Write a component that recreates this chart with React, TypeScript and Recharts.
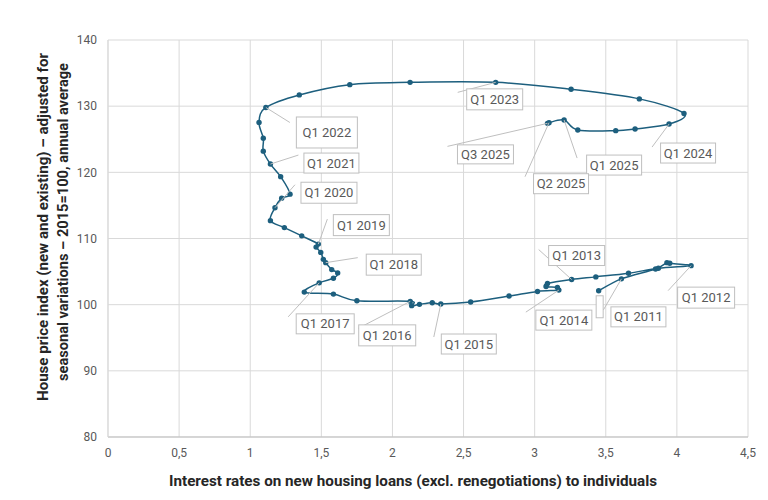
import {
  ScatterChart,
  Scatter,
  XAxis,
  YAxis,
  CartesianGrid,
  Label,
} from "recharts";

// quarterly path, Q4 2010 -> Q3 2025
const quarters = [
  "Q4 2010",
  "Q1 2011", "Q2 2011", "Q3 2011", "Q4 2011",
  "Q1 2012", "Q2 2012", "Q3 2012", "Q4 2012",
  "Q1 2013", "Q2 2013", "Q3 2013", "Q4 2013",
  "Q1 2014", "Q2 2014", "Q3 2014", "Q4 2014",
  "Q1 2015", "Q2 2015", "Q3 2015", "Q4 2015",
  "Q1 2016", "Q2 2016", "Q3 2016", "Q4 2016",
  "Q1 2017", "Q2 2017", "Q3 2017", "Q4 2017",
  "Q1 2018", "Q2 2018", "Q3 2018", "Q4 2018",
  "Q1 2019", "Q2 2019", "Q3 2019", "Q4 2019",
  "Q1 2020", "Q2 2020", "Q3 2020", "Q4 2020",
  "Q1 2021", "Q2 2021", "Q3 2021", "Q4 2021",
  "Q1 2022", "Q2 2022", "Q3 2022", "Q4 2022",
  "Q1 2023", "Q2 2023", "Q3 2023", "Q4 2023",
  "Q1 2024", "Q2 2024", "Q3 2024", "Q4 2024",
  "Q1 2025", "Q2 2025", "Q3 2025",
];

const rates = [
  3.45,
  3.61, 3.85, 3.93, 3.95,
  4.1, 3.87, 3.66, 3.43,
  3.26, 3.09, 3.08, 3.16,
  3.17, 3.02, 2.82, 2.55,
  2.34, 2.28, 2.19, 2.135,
  2.125, 1.75, 1.585, 1.38,
  1.485, 1.585, 1.615, 1.573,
  1.531, 1.514, 1.496, 1.463,
  1.479, 1.362, 1.24, 1.142,
  1.174, 1.221, 1.28, 1.214,
  1.142, 1.092, 1.092, 1.062,
  1.11, 1.345, 1.7, 2.124,
  2.726, 3.256, 3.736, 4.05,
  3.945, 3.706, 3.57, 3.303,
  3.207, 3.101, 3.09,
];

const prices = [
  102.1,
  103.9, 105.4, 106.35, 106.25,
  105.9, 105.5, 104.75, 104.2,
  103.8, 103.2, 102.75, 102.6,
  102.2, 102.0, 101.3, 100.4,
  100.1, 100.3, 100.05, 99.85,
  100.5, 100.6, 101.6, 101.9,
  103.3, 104.0, 104.8, 105.3,
  106.35, 106.85, 107.9, 108.7,
  109.15, 110.4, 111.65, 112.7,
  114.65, 116.1, 116.7, 119.35,
  121.25, 123.2, 125.15, 127.55,
  129.8, 131.7, 133.25, 133.6,
  133.6, 132.55, 131.1, 128.9,
  127.3, 126.55, 126.3, 126.4,
  127.9, 127.5, 127.4,
];

const labelledQuarters = [
  "Q4 2010", "Q1 2011", "Q1 2012", "Q1 2013", "Q1 2014", "Q1 2015",
  "Q1 2016", "Q1 2017", "Q1 2018", "Q1 2019", "Q1 2020", "Q1 2021",
  "Q1 2022", "Q1 2023", "Q1 2024", "Q1 2025", "Q2 2025", "Q3 2025",
];

const xTicks = [0, 0.5, 1, 1.5, 2, 2.5, 3, 3.5, 4, 4.5];
const yTicks = [80, 90, 100, 110, 120, 130, 140];

// box centre (bx, by), box size (w, h) and leader start (lx, ly), px offsets from the point
const labelLayout: Record<string, any> = {
  "Q4 2010": { bx: 1, by: 16, w: 7, h: 22, empty: true },
  "Q1 2011": { bx: 17, by: 38, w: 55, h: 20, lx: -18, ly: 31 },
  "Q1 2012": { bx: 15, by: 32, w: 57, h: 21, lx: -23, ly: 25 },
  "Q1 2013": { bx: 5, by: -24, w: 56, h: 20, lx: -33, ly: -30 },
  "Q1 2014": { bx: 5, by: 30, w: 56, h: 20, lx: -33, ly: 22 },
  "Q1 2015": { bx: 28, by: 40, w: 55, h: 20, lx: -7, ly: 33 },
  "Q1 2016": { bx: -23, by: 34, w: 57, h: 21, lx: -52, ly: 27 },
  "Q1 2017": { bx: 6, by: 41, w: 58, h: 20, lx: -31, ly: 34 },
  "Q1 2018": { bx: 68, by: 2, w: 55, h: 21, lx: 32, ly: -5 },
  "Q1 2019": { bx: 43, by: -19, w: 56, h: 21, lx: 9, ly: -25 },
  "Q1 2020": { bx: 54, by: -15, w: 56, h: 21, lx: 20, ly: -23 },
  "Q1 2021": { bx: 61, by: -1, w: 55, h: 20, lx: 28, ly: -9 },
  "Q1 2022": { bx: 61, by: 25, w: 61, h: 31, lx: 24, ly: 15 },
  "Q1 2023": { bx: -1, by: 17, w: 56, h: 21, lx: -38, ly: 10 },
  "Q1 2024": { bx: 19, by: 29, w: 55, h: 20, lx: -17, ly: 23 },
  "Q1 2025": { bx: 50, by: 45, w: 55, h: 20, lx: 13, ly: 38 },
  "Q2 2025": { bx: 12, by: 61, w: 55, h: 20, lx: -24, ly: 54 },
  "Q3 2025": { bx: -62, by: 31, w: 56, h: 19, lx: -100, ly: 23 },
};

const series = quarters.map((quarter, i) => ({
  quarter,
  rate: rates[i],
  price: prices[i],
}));

const labelData = series.filter((d) =>
  labelledQuarters.includes(d.quarter)
);

const COLOR = "#1d5f7e";
const FONT = "Roboto, 'Liberation Sans', sans-serif";

// smoothed line through every point, like a spreadsheet's smoothed scatter
const smoothCurve = (context: any) => {
  let pts: number[][] = [];
  return {
    areaStart() {},
    areaEnd() {},
    lineStart() {
      pts = [];
    },
    point(x: number, y: number) {
      pts.push([+x, +y]);
    },
    lineEnd() {
      const n = pts.length;
      if (!n) return;
      context.moveTo(pts[0][0], pts[0][1]);
      const k = 1 / 6;
      for (let i = 0; i < n - 1; i++) {
        const p0 = pts[Math.max(i - 1, 0)];
        const p1 = pts[i];
        const p2 = pts[i + 1];
        const p3 = pts[Math.min(i + 2, n - 1)];
        context.bezierCurveTo(
          p1[0] + (p2[0] - p0[0]) * k,
          p1[1] + (p2[1] - p0[1]) * k,
          p2[0] - (p3[0] - p1[0]) * k,
          p2[1] - (p3[1] - p1[1]) * k,
          p2[0],
          p2[1]
        );
      }
    },
  };
};

const renderDot = (props: any) => (
  <circle cx={props.cx} cy={props.cy} r={2.7} fill={COLOR} />
);

const renderLabel = (props: any) => {
  const { cx, cy, payload } = props;
  const lay = labelLayout[payload.quarter];
  if (!lay) return <g />;
  const bx = cx + lay.bx;
  const by = cy + lay.by;
  return (
    <g>
      {lay.lx !== undefined && (
        <line
          x1={cx + lay.lx}
          y1={cy + lay.ly}
          x2={cx}
          y2={cy}
          stroke="#bfbfbf"
          strokeWidth={1}
        />
      )}
      <rect
        x={bx - lay.w / 2}
        y={by - lay.h / 2}
        width={lay.w}
        height={lay.h}
        fill="#ffffff"
        stroke="#bfbfbf"
        strokeWidth={1}
      />
      {!lay.empty && (
        <text
          x={bx}
          y={by}
          textAnchor="middle"
          dominantBaseline="central"
          fontSize={13}
          fill="#595959"
          fontFamily={FONT}
        >
          {payload.quarter}
        </text>
      )}
    </g>
  );
};

export default function App() {
  return (
    <div
      style={{
        position: "absolute",
        left: 0,
        top: 0,
        width: 768,
        height: 500,
        background: "#ffffff",
      }}
    >
      <ScatterChart
        width={768}
        height={500}
        margin={{ top: 40, right: 20, bottom: 0, left: 0 }}
      >
        <CartesianGrid stroke="#d9d9d9" />
        <XAxis
          type="number"
          dataKey="rate"
          domain={[0, 4.5]}
          ticks={xTicks}
          tickFormatter={(v) => String(v).replace(".", ",")}
          height={63}
          axisLine={{ stroke: "#bfbfbf" }}
          tickLine={false}
          tickSize={0}
          tickMargin={11}
          tick={{ fill: "#595959", fontSize: 12, fontFamily: FONT }}
        >
          <Label
            content={() => (
              <text
                x={413}
                y={481}
                textAnchor="middle"
                dominantBaseline="central"
                fontSize={14}
                fontWeight="bold"
                fill="#262626"
                fontFamily={FONT}
                textLength={488}
                lengthAdjust="spacingAndGlyphs"
              >
                Interest rates on new housing loans (excl. renegotiations) to individuals
              </text>
            )}
          />
        </XAxis>
        <YAxis
          type="number"
          dataKey="price"
          domain={[80, 140]}
          ticks={yTicks}
          width={108}
          axisLine={{ stroke: "#d9d9d9" }}
          tickLine={false}
          tickSize={0}
          tickMargin={11}
          tick={{ fill: "#595959", fontSize: 12, fontFamily: FONT }}
        >
          <Label
            content={() => (
              <g fontSize={14} fontWeight="bold" fill="#262626" fontFamily={FONT}>
                <text
                  x={43}
                  y={227}
                  transform="rotate(-90 43 227)"
                  textAnchor="middle"
                  dominantBaseline="central"
                  textLength={348}
                  lengthAdjust="spacingAndGlyphs"
                >
                  House price index (new and existing) – adjusted for
                </text>
                <text
                  x={63}
                  y={222}
                  transform="rotate(-90 63 222)"
                  textAnchor="middle"
                  dominantBaseline="central"
                  textLength={318}
                  lengthAdjust="spacingAndGlyphs"
                >
                  seasonal variations – 2015=100, annual average
                </text>
              </g>
            )}
          />
        </YAxis>
        <Scatter
          data={series}
          fill={COLOR}
          line={{ stroke: COLOR, strokeWidth: 1.5 }}
          lineType="joint"
          lineJointType={smoothCurve as any}
          shape={renderDot}
          isAnimationActive={false}
        />
        <Scatter
          data={labelData}
          fill="none"
          shape={renderLabel}
          isAnimationActive={false}
        />
      </ScatterChart>
    </div>
  );
}
